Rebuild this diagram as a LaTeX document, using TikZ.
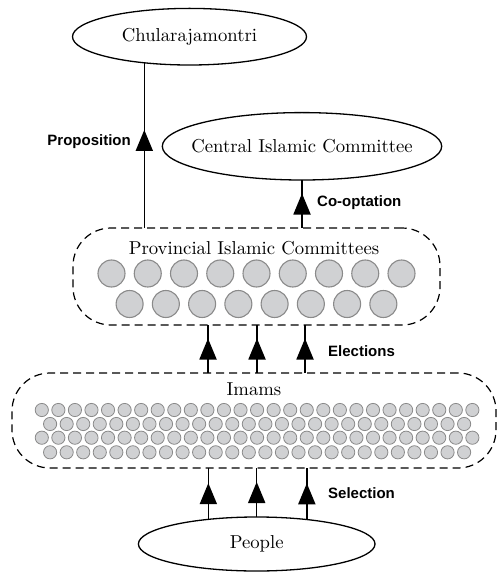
\documentclass[tikz,border=0pt]{standalone}
\usepackage{fontspec}
\newfontfamily\labfont{Liberation Sans}
\newfontfamily\serfont{lmroman10-regular.otf}
\usetikzlibrary{decorations.markings,shapes.geometric}
\definecolor{dotfill}{HTML}{D0D1D3}
\definecolor{dotline}{HTML}{8A8A8A}
\tikzset{
  x=1pt, y=-1pt,
  oval/.style={draw, ellipse, line width=1.3pt, inner xsep=-25pt, inner ysep=0pt, outer sep=0pt,
    font=\serfont\fontsize{18.7}{22}\selectfont},
  groupbox/.style={draw, dashed, dash pattern=on 8pt off 5pt, line width=1.2pt,
    rounded corners=38pt, inner sep=0pt, outer sep=0pt},
  grouptitle/.style={font=\serfont\fontsize{18.7}{22}\selectfont, inner sep=0pt},
  lab/.style={font=\labfont\bfseries\fontsize{15}{18}\selectfont, inner sep=0pt},
  link/.style={line width=1.4pt},
  midtri/.style={postaction={decorate, decoration={markings,
    mark=at position #1 with {\fill (10.5pt,0pt) -- (-10.5pt,8.75pt) -- (-10.5pt,-8.75pt) -- cycle;}}}},
  midtri/.default=0.5,
  bigdot/.style={fill=dotfill, draw=dotline, line width=1.1pt},
  smalldot/.style={fill=dotfill, draw=dotline, line width=0.8pt},
}
\begin{document}
\begin{tikzpicture}
\useasboundingbox (0,0) rectangle (498,572);
% ellipses
\node[oval, minimum width=234pt, minimum height=56.6pt] (chul) at (189.5,36.7) {Chularajamontri};
\node[oval, minimum width=279.4pt, minimum height=67.4pt] (cen) at (302,146.3) {Central Islamic Committee};
\node[oval, minimum width=236.6pt, minimum height=54pt] (people) at (256.7,544) {People};
% group boxes
\node[groupbox, minimum width=367pt, minimum height=97pt] (prov) at (256.5,276.5) {};
\node[grouptitle] (provt) at (254,248) {Provincial Islamic Committees};
\node[groupbox, minimum width=484pt, minimum height=95pt] (imams) at (254,420.5) {};
\node[grouptitle] (imamst) at (254,389) {Imams};
% provincial dots
\foreach \i in {0,...,8} {\draw[bigdot] (111.5+36.25*\i,273.5) circle[radius=13.5pt];}
\foreach \i in {0,...,7} {\draw[bigdot] (129.6+36.25*\i,304) circle[radius=13.5pt];}
% imam dots
\foreach \y in {410,437.7} {\foreach \i in {0,...,26} {\draw[smalldot] (41.8+16.56*\i,\y) circle[radius=6.6pt];}}
\foreach \y in {424,452.3} {\foreach \i in {0,...,25} {\draw[smalldot] (50.1+16.56*\i,\y) circle[radius=6.6pt];}}
% connectors
\draw[link, midtri=0.53] (chul.210.9 |- prov.north) -- (chul.210.9);
\draw[link, midtri] (cen.south |- prov.north) -- (cen.south);
\coordinate (e1) at (208,0);
\coordinate (e2) at (257,0);
\coordinate (e3) at (305,0);
\draw[link, midtri] (e1 |- imams.north) -- (e1 |- prov.south);
\draw[link, midtri] (e2 |- imams.north) -- (e2 |- prov.south);
\draw[link, midtri] (e3 |- imams.north) -- (e3 |- prov.south);
\draw[link, midtri] (people.153.2) -- (people.153.2 |- imams.south);
\draw[link, midtri] (people.north) -- (people.north |- imams.south);
\draw[link, midtri] (people.26.9) -- (people.26.9 |- imams.south);
% labels
\node[lab, anchor=east] (lprop) at (131,142) {Proposition};
\node[lab, anchor=west] (lcoop) at (317,203) {Co-optation};
\node[lab, anchor=west] (lelec) at (328,351) {Elections};
\node[lab, anchor=west] (lsel) at (328,493) {Selection};
\end{tikzpicture}
\end{document}
